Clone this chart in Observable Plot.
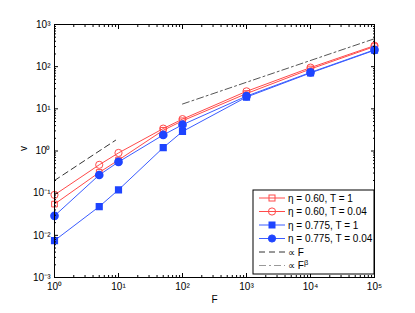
<!DOCTYPE html>
<html><head><meta charset="utf-8">
<script src="https://cdn.jsdelivr.net/npm/d3@7"></script>
<script src="https://cdn.jsdelivr.net/npm/@observablehq/plot@0.6"></script>
<style>
body{margin:0;background:#fff;font-family:"Liberation Sans",Arial,sans-serif;}
#chart{position:relative;width:415px;height:313px;}
</style></head>
<body><div id="chart"></div>
<script>
const F = [1, 5, 10, 50, 100, 1000, 10000, 100000];
const v_060_T1 = [0.055, 0.31, 0.61, 3.1, 5.2, 23, 88, 300];
const v_060_T004 = [0.091, 0.47, 0.9, 3.4, 5.7, 26, 95, 315];
const v_0775_T1 = [0.0075, 0.048, 0.12, 1.2, 2.9, 19, 71, 245];
const v_0775_T004 = [0.029, 0.27, 0.55, 2.4, 4.2, 20, 73, 251];
const propF_F = [1, 9];
const propF_v = [0.2, 1.8];
const propB_F = [100, 100000];
const propB_v = [13, 460];
const seriesLabels = ["η = 0.60, T = 1", "η = 0.60, T = 0.04", "η = 0.775, T = 1", "η = 0.775, T = 0.04", "∝ F", "∝ F"];
const xTicks = [1, 10, 100, 1000, 10000, 100000];
const yTicks = [0.001, 0.01, 0.1, 1, 10, 100, 1000];

const red = "#ff4a4a", blue = "#3a5cff", blueFill = "#1e44ff";
const sup = {"-":"⁻","0":"⁰","1":"¹","2":"²","3":"³","4":"⁴","5":"⁵","6":"⁶","7":"⁷","8":"⁸","9":"⁹"};
const fmt = d => "10" + String(Math.round(Math.log10(d))).split("").map(c => sup[c]).join("");
const none = () => "";
const minor = (lo, hi) => { const r = []; for (let e = lo; e < hi; e++) for (let k = 2; k <= 9; k++) r.push(k * 10 ** e); return r; };
const xMinor = minor(0, 5), yMinor = minor(-3, 3);

const mk = (ys) => F.map((f, i) => ({F: f, v: ys[i]}));
const s1 = mk(v_060_T1), s2 = mk(v_060_T004), s3 = mk(v_0775_T1), s4 = mk(v_0775_T004);
const pF = propF_F.map((f, i) => ({F: f, v: propF_v[i]}));
const pB = propB_F.map((f, i) => ({F: f, v: propB_v[i]}));

const plot = Plot.plot({
  width: 415, height: 313,
  marginLeft: 54, marginRight: 41, marginTop: 24, marginBottom: 36,
  style: {fontFamily: "Liberation Sans, Arial, sans-serif", fontSize: "10px", color: "#000", background: "#fff"},
  x: {type: "log", domain: [1, 100000]},
  y: {type: "log", domain: [0.001, 1000]},
  marks: [
    Plot.line(pF, {x: "F", y: "v", stroke: "#333", strokeWidth: 1, strokeDasharray: "6,4"}),
    Plot.line(pB, {x: "F", y: "v", stroke: "#555", strokeWidth: 1, strokeDasharray: "7,3,2,3"}),
    Plot.line(s1, {x: "F", y: "v", stroke: red, strokeWidth: 1}),
    Plot.line(s2, {x: "F", y: "v", stroke: red, strokeWidth: 1}),
    Plot.line(s3, {x: "F", y: "v", stroke: blue, strokeWidth: 1}),
    Plot.line(s4, {x: "F", y: "v", stroke: blue, strokeWidth: 1}),
    Plot.dot(s1, {x: "F", y: "v", symbol: "square", r: 3.2, stroke: red, fill: "none", strokeWidth: 1}),
    Plot.dot(s2, {x: "F", y: "v", symbol: "circle", r: 3.6, stroke: red, fill: "none", strokeWidth: 1}),
    Plot.dot(s3, {x: "F", y: "v", symbol: "square", r: 3.2, stroke: blueFill, fill: blueFill}),
    Plot.dot(s4, {x: "F", y: "v", symbol: "circle", r: 3.6, stroke: blueFill, fill: blueFill}),
    Plot.frame({stroke: "#000", strokeWidth: 1}),
    Plot.axisX({ticks: xTicks, tickFormat: fmt, tickSize: -4, tickPadding: 9, label: null, fontSize: 10}),
    Plot.axisX({ticks: xMinor, tickFormat: none, tickSize: -2, label: null}),
    Plot.axisX({anchor: "top", ticks: xTicks, tickFormat: none, tickSize: -4, label: null}),
    Plot.axisX({anchor: "top", ticks: xMinor, tickFormat: none, tickSize: -2, label: null}),
    Plot.axisY({ticks: yTicks, tickFormat: fmt, tickSize: -4, tickPadding: 8, label: null, fontSize: 10}),
    Plot.axisY({ticks: yMinor, tickFormat: none, tickSize: -2, label: null}),
    Plot.axisY({anchor: "right", ticks: yTicks, tickFormat: none, tickSize: -4, label: null}),
    Plot.axisY({anchor: "right", ticks: yMinor, tickFormat: none, tickSize: -2, label: null}),
    Plot.text(["F"], {frameAnchor: "bottom", dy: 25, fontSize: 10}),
    Plot.text(["v"], {frameAnchor: "left", dx: -31, rotate: -90, fontSize: 10})
  ]
});
document.getElementById("chart").appendChild(plot);

// Legend drawn inside the plot area
const svg = d3.select(plot);
const g = svg.append("g").attr("font-family", "Liberation Sans, Arial, sans-serif").attr("font-size", 10).attr("text-anchor", "start");
g.append("rect").attr("x", 253).attr("y", 190).attr("width", 121).attr("height", 84)
  .attr("fill", "#fff").attr("stroke", "#000").attr("stroke-width", 1);
const rows = [
  {stroke: red, dash: null, sym: "square", fill: "none"},
  {stroke: red, dash: null, sym: "circle", fill: "none"},
  {stroke: blue, dash: null, sym: "square", fill: blueFill},
  {stroke: blue, dash: null, sym: "circle", fill: blueFill},
  {stroke: "#333", dash: "6,4", sym: null},
  {stroke: "#999", dash: "7,3,2,3", sym: null}
];
rows.forEach((r, i) => {
  const y = 198 + i * 13.5;
  g.append("line").attr("x1", 259).attr("x2", 285).attr("y1", y).attr("y2", y)
    .attr("stroke", r.stroke).attr("stroke-width", 1).attr("stroke-dasharray", r.dash);
  if (r.sym === "square") g.append("rect").attr("x", 269).attr("y", y - 3).attr("width", 6).attr("height", 6)
    .attr("stroke", r.fill === "none" ? r.stroke : r.fill).attr("fill", r.fill);
  if (r.sym === "circle") g.append("circle").attr("cx", 272).attr("cy", y).attr("r", 3.6)
    .attr("stroke", r.fill === "none" ? r.stroke : r.fill).attr("fill", r.fill);
  const t = g.append("text").attr("x", 288).attr("y", y).attr("dy", "0.35em").attr("fill", "#000").text(seriesLabels[i]);
  if (i === 5) t.append("tspan").attr("dy", "-0.5em").attr("font-size", 7.5).text("β");
});
</script>
</body></html>
